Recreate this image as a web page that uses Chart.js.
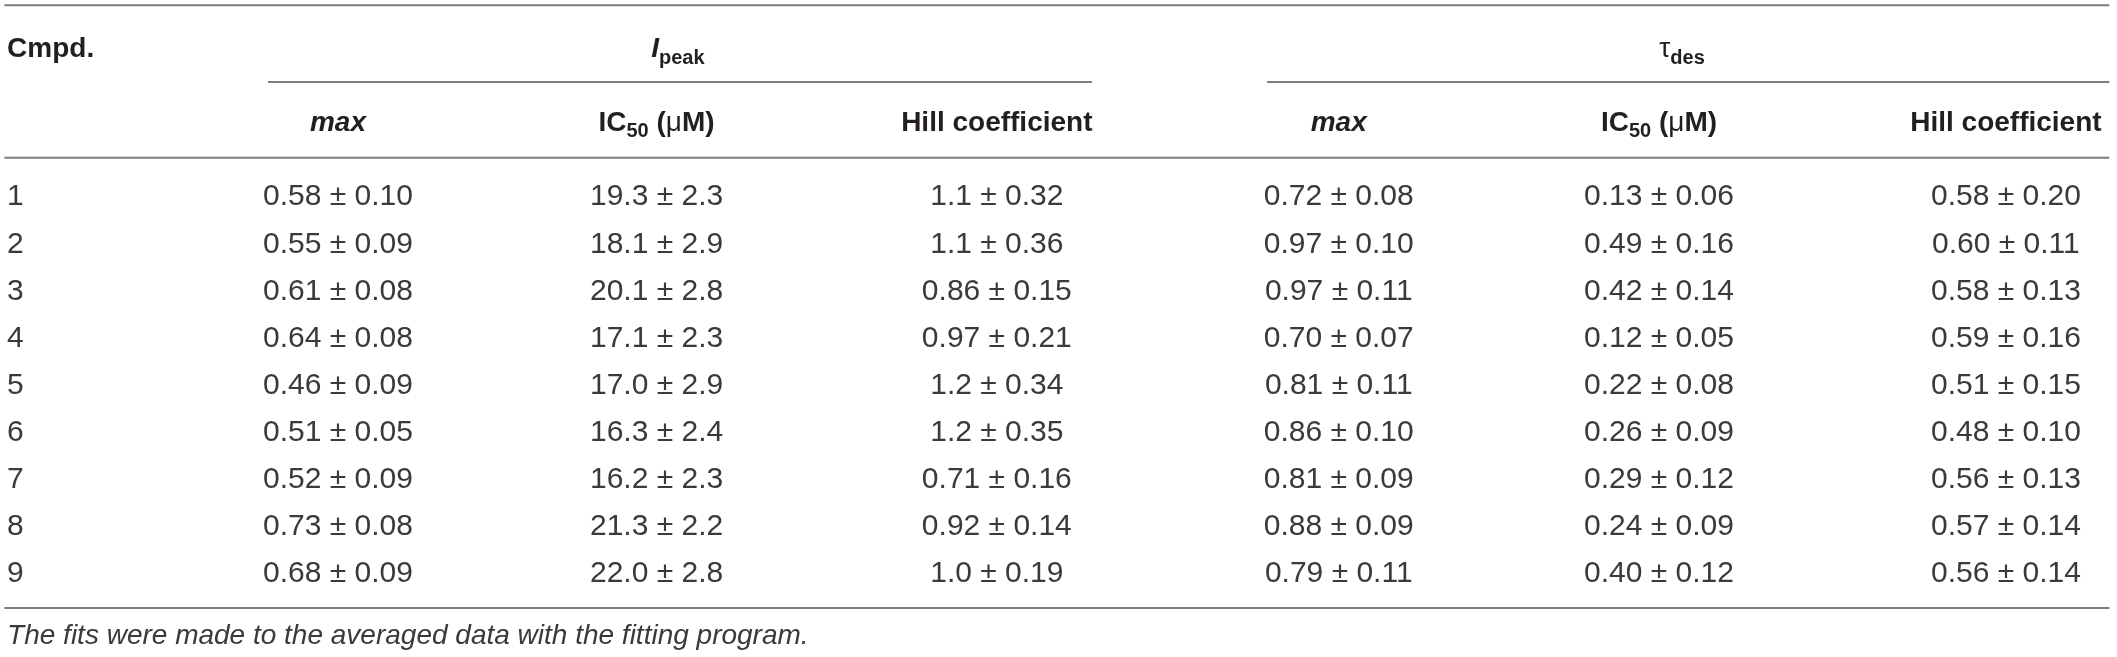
<!DOCTYPE html>
<html lang="en">
<head>
<meta charset="UTF-8">
<title>Ipeak and tau_des fit parameters</title>
<script src="https://cdn.jsdelivr.net/npm/chart.js@4.4.1/dist/chart.umd.min.js"></script>
<style>
  html, body { margin: 0; padding: 0; background: #fff; }
  #wrap { width: 2117px; height: 657px; position: relative; }
</style>
</head>
<body>
<div id="wrap"><canvas id="fits"></canvas></div>
<script>
// ---- table data ----
const compounds = ['1', '2', '3', '4', '5', '6', '7', '8', '9'];
const peakMax  = ['0.58 ± 0.10', '0.55 ± 0.09', '0.61 ± 0.08', '0.64 ± 0.08', '0.46 ± 0.09', '0.51 ± 0.05', '0.52 ± 0.09', '0.73 ± 0.08', '0.68 ± 0.09'];
const peakIC50 = ['19.3 ± 2.3', '18.1 ± 2.9', '20.1 ± 2.8', '17.1 ± 2.3', '17.0 ± 2.9', '16.3 ± 2.4', '16.2 ± 2.3', '21.3 ± 2.2', '22.0 ± 2.8'];
const peakHill = ['1.1 ± 0.32', '1.1 ± 0.36', '0.86 ± 0.15', '0.97 ± 0.21', '1.2 ± 0.34', '1.2 ± 0.35', '0.71 ± 0.16', '0.92 ± 0.14', '1.0 ± 0.19'];
const desMax   = ['0.72 ± 0.08', '0.97 ± 0.10', '0.97 ± 0.11', '0.70 ± 0.07', '0.81 ± 0.11', '0.86 ± 0.10', '0.81 ± 0.09', '0.88 ± 0.09', '0.79 ± 0.11'];
const desIC50  = ['0.13 ± 0.06', '0.49 ± 0.16', '0.42 ± 0.14', '0.12 ± 0.05', '0.22 ± 0.08', '0.26 ± 0.09', '0.29 ± 0.12', '0.24 ± 0.09', '0.40 ± 0.12'];
const desHill  = ['0.58 ± 0.20', '0.60 ± 0.11', '0.58 ± 0.13', '0.59 ± 0.16', '0.51 ± 0.15', '0.48 ± 0.10', '0.56 ± 0.13', '0.57 ± 0.14', '0.56 ± 0.14'];

const colHeads = ['Cmpd.', 'max', 'IC50 (μM)', 'Hill coefficient', 'max', 'IC50 (μM)', 'Hill coefficient'];
const groupHeads = ['Ipeak', 'τdes'];
const footnote = 'The fits were made to the averaged data with the fitting program.';

// ---- layout, in scale units (x = column, y = row) ----
const colX = [0.008, 1, 1.955, 2.975, 4, 4.96, 6];
const groupX = [2.019, 5.029];
const headRow1 = -3.16, headRow2 = -1.571, noteRow = 9.31;
// [from, to, row]
const rules = [[0, 6.31, -4.03], [0.79, 3.26, -2.4], [3.785, 6.31, -2.4], [0, 6.31, -0.79], [0, 6.31, 8.77]];

const FONT = '"Liberation Sans", Arial, Helvetica, sans-serif';
const INK = '#231f20';
const DATA_INK = '#3a3a3a';
const RULE = '#7d7d7d';

const B = px => 'bold ' + px + 'px ' + FONT;
const R = px => px + 'px ' + FONT;

// header strings -> styled runs (subscripts, italics)
function headRuns(label) {
  if (label === 'max') return [{ t: 'max', font: 'italic bold 28px ' + FONT }];
  if (label === 'Ipeak') return [{ t: 'I', font: 'italic bold 28px ' + FONT }, { t: 'peak', font: B(20), dy: 7 }];
  if (label === 'τdes') return [{ t: 'τ', font: R(28) }, { t: 'des', font: B(20), dy: 7 }];
  if (label.startsWith('IC50')) return [
    { t: 'IC', font: B(28) }, { t: '50', font: B(20), dy: 6 }, { t: ' (', font: B(28) },
    { t: 'μ', font: R(28) }, { t: 'M)', font: B(28) }
  ];
  return [{ t: label, font: B(28) }];
}

function drawRuns(ctx, runs, x, y, align, color) {
  let w = 0;
  runs.forEach(r => { ctx.font = r.font; w += ctx.measureText(r.t).width; });
  let cx = align === 'left' ? x : x - w / 2;
  ctx.textAlign = 'left';
  ctx.textBaseline = 'alphabetic';
  runs.forEach(r => {
    ctx.font = r.font;
    ctx.fillStyle = color;
    ctx.fillText(r.t, cx, y + (r.dy || 0));
    cx += ctx.measureText(r.t).width;
  });
}

const cellText = {
  id: 'cellText',
  afterDatasetsDraw(chart) {
    const ctx = chart.ctx;
    ctx.save();
    chart.data.datasets.forEach((ds, i) => {
      if (!ds.cells) return;
      chart.getDatasetMeta(i).data.forEach((el, j) => {
        const runs = ds.head ? headRuns(ds.cells[j]) : [{ t: ds.cells[j], font: ds.font || R(30) }];
        drawRuns(ctx, runs, el.x, el.y + 10.5, ds.align, ds.color);
      });
    });
    ctx.restore();
  }
};

const datasets = [];

rules.forEach(r => datasets.push({
  type: 'line',
  data: [{ x: r[0], y: r[2] }, { x: r[1], y: r[2] }],
  borderColor: RULE, borderWidth: 2, pointRadius: 0
}));

const columns = [compounds, peakMax, peakIC50, peakHill, desMax, desIC50, desHill];
columns.forEach((col, c) => datasets.push({
  type: 'scatter',
  data: col.map((_, r) => ({ x: colX[c], y: r })),
  cells: col, align: c === 0 ? 'left' : 'center', color: DATA_INK, pointRadius: 0
}));

// column heads; "Cmpd." sits on the upper row, left aligned
datasets.push({
  type: 'scatter',
  data: colHeads.slice(1).map((h, k) => ({ x: colX[k + 1], y: headRow2 })),
  cells: colHeads.slice(1), head: true, align: 'center', color: INK, pointRadius: 0
});
datasets.push({
  type: 'scatter',
  data: [{ x: colX[0], y: headRow1 }],
  cells: [colHeads[0]], head: true, align: 'left', color: INK, pointRadius: 0
});
datasets.push({
  type: 'scatter',
  data: groupHeads.map((g, k) => ({ x: groupX[k], y: headRow1 })),
  cells: groupHeads, head: true, align: 'center', color: INK, pointRadius: 0
});
datasets.push({
  type: 'scatter',
  data: [{ x: colX[0], y: noteRow }],
  cells: [footnote], font: 'italic 28px ' + FONT, align: 'left', color: DATA_INK, pointRadius: 0
});

new Chart(document.getElementById('fits'), {
  type: 'scatter',
  data: { datasets },
  options: {
    responsive: true,
    maintainAspectRatio: false,
    animation: false,
    events: [],
    layout: { padding: 0 },
    plugins: { legend: { display: false }, tooltip: { enabled: false } },
    scales: {
      x: { type: 'linear', min: -0.0132, max: 6.333, display: false },
      y: { type: 'linear', min: -4.14, max: 9.81, reverse: true, display: false }
    }
  },
  plugins: [cellText]
});
</script>
</body>
</html>
